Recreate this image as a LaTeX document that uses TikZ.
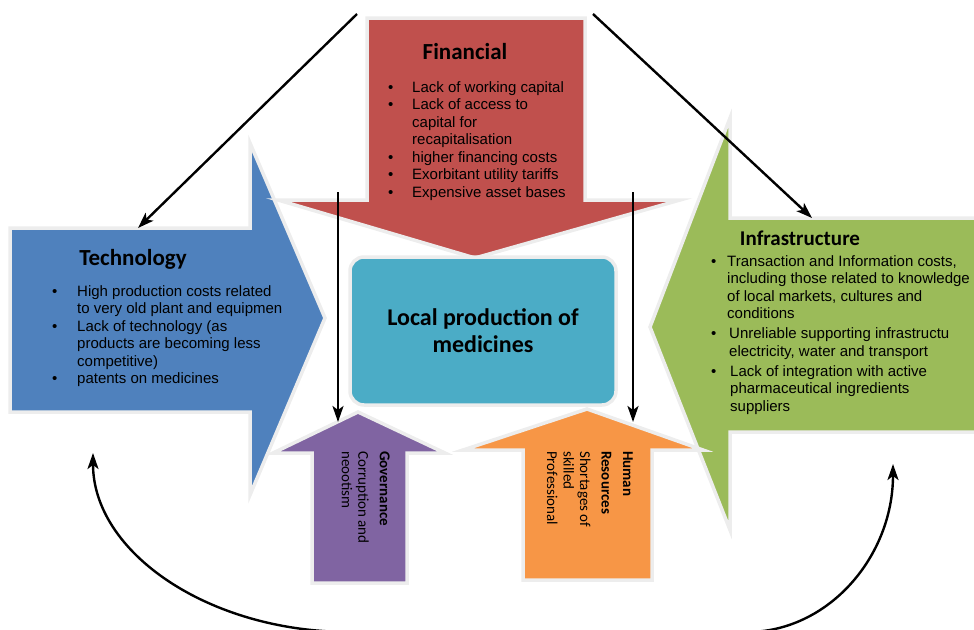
\documentclass[tikz,border=0pt]{standalone}
\usepackage{fontspec}
\setmainfont{Liberation Sans}
\newfontfamily\calib{Carlito}
\usetikzlibrary{arrows.meta}
\definecolor{finred}{HTML}{C0504D}
\definecolor{techblue}{HTML}{4F81BD}
\definecolor{infgreen}{HTML}{9BBB59}
\definecolor{prodteal}{HTML}{4BACC6}
\definecolor{govpurple}{HTML}{8064A2}
\definecolor{hrorange}{HTML}{F79646}
\newcommand\bitem[1][24pt]{\makebox[#1][l]{\textbullet}}
\newcommand\bcont[1][24pt]{\hspace*{#1}}
\begin{document}
\begin{tikzpicture}[x=1pt,y=-1pt,
  >={Stealth[length=16,width=11,inset=4]},
  block/.style={draw=black!7, line width=3.5, line join=miter},
  head/.style={font=\calib\bfseries\fontsize{23}{27}\selectfont},
  list/.style={font=\fontsize{15}{17.5}\selectfont, align=left, anchor=north west, inner sep=0},
  side/.style={font=\calib\fontsize{15}{16.5}\selectfont, align=left, rotate=-90, anchor=north west, inner sep=0},
  conn/.style={->, line width=2.4}]

\useasboundingbox (0,0) rectangle (974,629);
\clip (0,0) rectangle (974,629);

% side arrows
\draw[block, fill=techblue] (10,228) -- (250,228) -- (250,143) -- (325,318) -- (250,495) -- (250,412) -- (10,412) -- cycle;
\draw[block, fill=infgreen] (985,218) -- (730,218) -- (730,118) -- (650,327) -- (730,530) -- (730,432) -- (985,432) -- cycle;
% financial arrow
\draw[block, fill=finred] (367,18) -- (585,18) -- (585,200) -- (680,200) -- (475,258) -- (278,200) -- (367,200) -- cycle;

\node[block, fill=prodteal, rounded corners=14, minimum width=266, minimum height=148, align=center,
  font=\calib\bfseries\fontsize{24}{27}\selectfont] (prod) at (483,331) {Local production of\\medicines};

% bottom arrows
\draw[block, fill=govpurple] (358,412) -- (445,453) -- (407,453) -- (407,583) -- (312,583) -- (312,453) -- (273,453) -- cycle;
\draw[block, fill=hrorange] (587,409) -- (703,450) -- (652,450) -- (652,580) -- (523,580) -- (523,450) -- (463,450) -- cycle;

\node[head] (finhead) at (465,52) {Financial};
\node[list] (finlist) at (388,81) {\bitem Lack of working capital\\ \bitem Lack of access to\\ \bcont capital for\\ \bcont recapitalisation\\ \bitem higher financing costs\\ \bitem Exorbitant utility tariffs\\ \bitem Expensive asset bases};

\node[head] (techhead) at (133,259) {Technology};
\node[list] (techlist) at (52,285) {\bitem[25pt]High production costs related\\ \bcont[25pt]to very old plant and equipmen\\ \bitem[25pt]Lack of technology (as\\ \bcont[25pt]products are becoming less\\ \bcont[25pt]competitive)\\ \bitem[25pt]patents on medicines};

\node[head, font=\calib\bfseries\fontsize{21}{25}\selectfont] (infhead) at (800,238) {Infrastructure};
\node[list] (inflist) at (711,255) {\bitem[16pt]Transaction and Information costs,\\ \bcont[16pt]including those related to knowledge\\ \bcont[16pt]of local markets, cultures and\\ \bcont[16pt]conditions\\[2.5pt] \bitem[18pt]Unreliable supporting infrastructu\\ \bcont[18pt]electricity, water and transport\\[2.5pt] \bitem[19pt]Lack of integration with active\\ \bcont[19pt]pharmaceutical ingredients\\ \bcont[19pt]suppliers};

\node[side] (govtext) at (390,451) {\textbf{Governance}\\[5pt] Corruption and\\ neootism};
\node[side] (hrtext) at (633,451) {\textbf{Human}\\[5pt] \textbf{Resources}\\[5pt] Shortages of\\ skilled\\ Professional};

% connectors
\coordinate (ltop) at (357,14);
\coordinate (rtop) at (593,14);
\coordinate (techin) at (138,228);
\coordinate (infin) at (812,218);
\coordinate (lmid) at (338,192);
\coordinate (rmid) at (633,192);
\coordinate (govin) at (338,422);
\coordinate (hrin) at (633,422);
\coordinate (lcurve) at (93,453);
\coordinate (rcurve) at (893,464);
\coordinate (lbase) at (350,632);
\coordinate (rbase) at (747,632);
\draw[conn] (ltop) -- (techin);
\draw[conn] (rtop) -- (infin);
\draw[conn] (lmid) -- (govin);
\draw[conn] (rmid) -- (hrin);
\draw[conn, <->] (lcurve) .. controls (93,552) and (208,632) .. (lbase) -- (rbase)
  .. controls (828,632) and (893,557) .. (rcurve);
\end{tikzpicture}
\end{document}
